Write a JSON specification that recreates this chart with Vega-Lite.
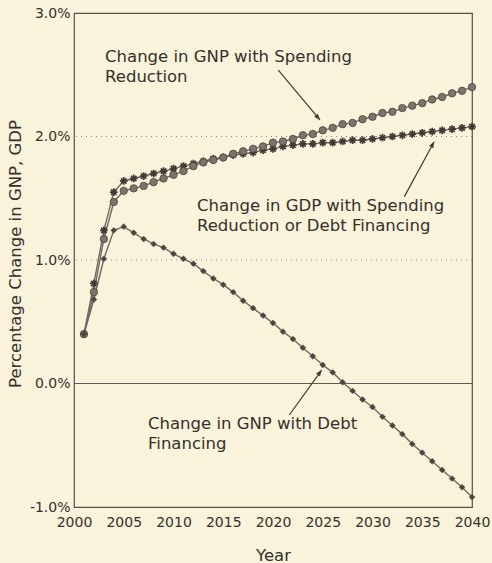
{
  "$schema": "https://vega.github.io/schema/vega-lite/v6.json",
  "width": 398,
  "height": 494,
  "autosize": "none",
  "padding": {"left": 74, "top": 13, "right": 20, "bottom": 56},
  "background": "#f9f3dc",
  "config": {
    "view": {"stroke": "#55504a", "strokeWidth": 1.2},
    "font": "DejaVu Sans",
    "axis": {"domain": false, "ticks": false, "grid": false, "labelFlush": false, "labelOverlap": false, "labelFont": "DejaVu Sans", "labelFontSize": 14, "labelColor": "#35302a", "titleFont": "DejaVu Sans", "titleFontSize": 16.5, "titleFontWeight": "normal", "titleColor": "#35302a"}
  },
  "datasets": {
    "series": [
      {"year": 2001, "series": "GNP spending", "value": 0.40},
      {"year": 2002, "series": "GNP spending", "value": 0.74},
      {"year": 2003, "series": "GNP spending", "value": 1.17},
      {"year": 2004, "series": "GNP spending", "value": 1.47},
      {"year": 2005, "series": "GNP spending", "value": 1.56},
      {"year": 2006, "series": "GNP spending", "value": 1.58},
      {"year": 2007, "series": "GNP spending", "value": 1.60},
      {"year": 2008, "series": "GNP spending", "value": 1.63},
      {"year": 2009, "series": "GNP spending", "value": 1.66},
      {"year": 2010, "series": "GNP spending", "value": 1.69},
      {"year": 2011, "series": "GNP spending", "value": 1.72},
      {"year": 2012, "series": "GNP spending", "value": 1.76},
      {"year": 2013, "series": "GNP spending", "value": 1.79},
      {"year": 2014, "series": "GNP spending", "value": 1.81},
      {"year": 2015, "series": "GNP spending", "value": 1.83},
      {"year": 2016, "series": "GNP spending", "value": 1.86},
      {"year": 2017, "series": "GNP spending", "value": 1.88},
      {"year": 2018, "series": "GNP spending", "value": 1.90},
      {"year": 2019, "series": "GNP spending", "value": 1.92},
      {"year": 2020, "series": "GNP spending", "value": 1.95},
      {"year": 2021, "series": "GNP spending", "value": 1.96},
      {"year": 2022, "series": "GNP spending", "value": 1.98},
      {"year": 2023, "series": "GNP spending", "value": 2.01},
      {"year": 2024, "series": "GNP spending", "value": 2.02},
      {"year": 2025, "series": "GNP spending", "value": 2.05},
      {"year": 2026, "series": "GNP spending", "value": 2.07},
      {"year": 2027, "series": "GNP spending", "value": 2.10},
      {"year": 2028, "series": "GNP spending", "value": 2.11},
      {"year": 2029, "series": "GNP spending", "value": 2.14},
      {"year": 2030, "series": "GNP spending", "value": 2.16},
      {"year": 2031, "series": "GNP spending", "value": 2.19},
      {"year": 2032, "series": "GNP spending", "value": 2.20},
      {"year": 2033, "series": "GNP spending", "value": 2.23},
      {"year": 2034, "series": "GNP spending", "value": 2.25},
      {"year": 2035, "series": "GNP spending", "value": 2.27},
      {"year": 2036, "series": "GNP spending", "value": 2.30},
      {"year": 2037, "series": "GNP spending", "value": 2.32},
      {"year": 2038, "series": "GNP spending", "value": 2.35},
      {"year": 2039, "series": "GNP spending", "value": 2.37},
      {"year": 2040, "series": "GNP spending", "value": 2.40},
      {"year": 2001, "series": "GDP", "value": 0.40},
      {"year": 2002, "series": "GDP", "value": 0.81},
      {"year": 2003, "series": "GDP", "value": 1.24},
      {"year": 2004, "series": "GDP", "value": 1.55},
      {"year": 2005, "series": "GDP", "value": 1.64},
      {"year": 2006, "series": "GDP", "value": 1.66},
      {"year": 2007, "series": "GDP", "value": 1.68},
      {"year": 2008, "series": "GDP", "value": 1.70},
      {"year": 2009, "series": "GDP", "value": 1.72},
      {"year": 2010, "series": "GDP", "value": 1.74},
      {"year": 2011, "series": "GDP", "value": 1.76},
      {"year": 2012, "series": "GDP", "value": 1.78},
      {"year": 2013, "series": "GDP", "value": 1.80},
      {"year": 2014, "series": "GDP", "value": 1.82},
      {"year": 2015, "series": "GDP", "value": 1.83},
      {"year": 2016, "series": "GDP", "value": 1.85},
      {"year": 2017, "series": "GDP", "value": 1.86},
      {"year": 2018, "series": "GDP", "value": 1.87},
      {"year": 2019, "series": "GDP", "value": 1.89},
      {"year": 2020, "series": "GDP", "value": 1.90},
      {"year": 2021, "series": "GDP", "value": 1.92},
      {"year": 2022, "series": "GDP", "value": 1.93},
      {"year": 2023, "series": "GDP", "value": 1.94},
      {"year": 2024, "series": "GDP", "value": 1.94},
      {"year": 2025, "series": "GDP", "value": 1.95},
      {"year": 2026, "series": "GDP", "value": 1.95},
      {"year": 2027, "series": "GDP", "value": 1.96},
      {"year": 2028, "series": "GDP", "value": 1.97},
      {"year": 2029, "series": "GDP", "value": 1.97},
      {"year": 2030, "series": "GDP", "value": 1.98},
      {"year": 2031, "series": "GDP", "value": 1.99},
      {"year": 2032, "series": "GDP", "value": 2.00},
      {"year": 2033, "series": "GDP", "value": 2.01},
      {"year": 2034, "series": "GDP", "value": 2.02},
      {"year": 2035, "series": "GDP", "value": 2.03},
      {"year": 2036, "series": "GDP", "value": 2.04},
      {"year": 2037, "series": "GDP", "value": 2.05},
      {"year": 2038, "series": "GDP", "value": 2.06},
      {"year": 2039, "series": "GDP", "value": 2.07},
      {"year": 2040, "series": "GDP", "value": 2.08},
      {"year": 2001, "series": "GNP debt", "value": 0.40},
      {"year": 2002, "series": "GNP debt", "value": 0.68},
      {"year": 2003, "series": "GNP debt", "value": 1.01},
      {"year": 2004, "series": "GNP debt", "value": 1.24},
      {"year": 2005, "series": "GNP debt", "value": 1.27},
      {"year": 2006, "series": "GNP debt", "value": 1.22},
      {"year": 2007, "series": "GNP debt", "value": 1.17},
      {"year": 2008, "series": "GNP debt", "value": 1.13},
      {"year": 2009, "series": "GNP debt", "value": 1.10},
      {"year": 2010, "series": "GNP debt", "value": 1.05},
      {"year": 2011, "series": "GNP debt", "value": 1.01},
      {"year": 2012, "series": "GNP debt", "value": 0.97},
      {"year": 2013, "series": "GNP debt", "value": 0.91},
      {"year": 2014, "series": "GNP debt", "value": 0.85},
      {"year": 2015, "series": "GNP debt", "value": 0.80},
      {"year": 2016, "series": "GNP debt", "value": 0.74},
      {"year": 2017, "series": "GNP debt", "value": 0.67},
      {"year": 2018, "series": "GNP debt", "value": 0.61},
      {"year": 2019, "series": "GNP debt", "value": 0.55},
      {"year": 2020, "series": "GNP debt", "value": 0.49},
      {"year": 2021, "series": "GNP debt", "value": 0.42},
      {"year": 2022, "series": "GNP debt", "value": 0.36},
      {"year": 2023, "series": "GNP debt", "value": 0.29},
      {"year": 2024, "series": "GNP debt", "value": 0.22},
      {"year": 2025, "series": "GNP debt", "value": 0.15},
      {"year": 2026, "series": "GNP debt", "value": 0.09},
      {"year": 2027, "series": "GNP debt", "value": 0.01},
      {"year": 2028, "series": "GNP debt", "value": -0.06},
      {"year": 2029, "series": "GNP debt", "value": -0.13},
      {"year": 2030, "series": "GNP debt", "value": -0.19},
      {"year": 2031, "series": "GNP debt", "value": -0.27},
      {"year": 2032, "series": "GNP debt", "value": -0.34},
      {"year": 2033, "series": "GNP debt", "value": -0.41},
      {"year": 2034, "series": "GNP debt", "value": -0.49},
      {"year": 2035, "series": "GNP debt", "value": -0.56},
      {"year": 2036, "series": "GNP debt", "value": -0.63},
      {"year": 2037, "series": "GNP debt", "value": -0.70},
      {"year": 2038, "series": "GNP debt", "value": -0.77},
      {"year": 2039, "series": "GNP debt", "value": -0.84},
      {"year": 2040, "series": "GNP debt", "value": -0.92}
    ],
    "labels": [
      {"x": 2003.12, "y": 2.603, "label": "Change in GNP with Spending\nReduction"},
      {"x": 2012.36, "y": 1.397, "label": "Change in GDP with Spending\nReduction or Debt Financing"},
      {"x": 2007.44, "y": -0.368, "label": "Change in GNP with Debt\nFinancing"}
    ],
    "arrows": [
      {"x": 2020.53, "y": 2.538, "x2": 2024.72, "y2": 2.134},
      {"x": 2033.2, "y": 1.513, "x2": 2036.2, "y2": 1.958},
      {"x": 2021.64, "y": -0.255, "x2": 2024.89, "y2": 0.109}
    ]
  },
  "layer": [
    {
      "data": {"values": [{"level": 1}, {"level": 2}]},
      "mark": {"type": "rule", "color": "#8a857c", "strokeWidth": 1, "strokeDash": [1, 4]},
      "encoding": {
        "y": {"field": "level", "type": "quantitative", "scale": {"domain": [-1, 3], "nice": false, "zero": false},
          "axis": {"values": [-1, 0, 1, 2, 3], "labelExpr": "(datum.value < 0 ? '-' : '') + format(abs(datum.value), '.1f') + '%'", "labelPadding": 4,
            "title": "Percentage Change in GNP, GDP", "titleX": -59, "titleY": 240.5, "titleAngle": -90, "titleAlign": "center", "titleBaseline": "middle"}}
      }
    },
    {
      "data": {"values": [{"level": 0}]},
      "mark": {"type": "rule", "color": "#5f5a52", "strokeWidth": 1.2},
      "encoding": {"y": {"field": "level", "type": "quantitative"}}
    },
    {
      "data": {"name": "series"},
      "mark": {"type": "line", "color": "#6e6961", "strokeWidth": 1.4},
      "encoding": {
        "x": {"field": "year", "type": "quantitative", "scale": {"domain": [2000, 2040], "nice": false, "zero": false},
          "axis": {"values": [2000, 2005, 2010, 2015, 2020, 2025, 2030, 2035, 2040], "format": "d", "labelPadding": 8,
            "title": "Year", "titleY": 48, "titleBaseline": "middle"}},
        "y": {"field": "value", "type": "quantitative"},
        "detail": {"field": "series"}
      }
    },
    {
      "data": {"name": "series"},
      "transform": [{"filter": "datum.series === 'GDP'"}],
      "mark": {"type": "point", "shape": "M-1,0L1,0M0,-1L0,1M-0.7,-0.7L0.7,0.7M-0.7,0.7L0.7,-0.7", "filled": false, "stroke": "#3f3a35", "strokeWidth": 1.7, "size": 60, "opacity": 1},
      "encoding": {"x": {"field": "year", "type": "quantitative"}, "y": {"field": "value", "type": "quantitative"}}
    },
    {
      "data": {"name": "series"},
      "transform": [{"filter": "datum.series === 'GNP spending'"}],
      "mark": {"type": "point", "shape": "circle", "filled": true, "fill": "#7a746b", "stroke": "#47423c", "strokeWidth": 0.8, "size": 55, "opacity": 1},
      "encoding": {"x": {"field": "year", "type": "quantitative"}, "y": {"field": "value", "type": "quantitative"}}
    },
    {
      "data": {"name": "series"},
      "transform": [{"filter": "datum.series === 'GNP debt'"}],
      "mark": {"type": "point", "shape": "diamond", "filled": true, "fill": "#4a453f", "stroke": "#4a453f", "strokeWidth": 0.5, "size": 35, "opacity": 1},
      "encoding": {"x": {"field": "year", "type": "quantitative"}, "y": {"field": "value", "type": "quantitative"}}
    },
    {
      "data": {"name": "labels"},
      "mark": {"type": "text", "align": "left", "baseline": "alphabetic", "fontSize": 16.5, "font": "DejaVu Sans", "lineBreak": "\n", "lineHeight": 20, "color": "#35302a"},
      "encoding": {"x": {"field": "x", "type": "quantitative"}, "y": {"field": "y", "type": "quantitative"}, "text": {"field": "label"}}
    },
    {
      "data": {"name": "arrows"},
      "mark": {"type": "rule", "color": "#3f3a35", "strokeWidth": 1.2},
      "encoding": {"x": {"field": "x", "type": "quantitative"}, "y": {"field": "y", "type": "quantitative"}, "x2": {"field": "x2"}, "y2": {"field": "y2"}}
    },
    {
      "data": {"values": [{"x": 2024.72, "y": 2.134}]},
      "mark": {"type": "point", "shape": "M0,0L0.4,1L-0.4,1Z", "filled": true, "fill": "#3f3a35", "size": 150, "angle": 140, "opacity": 1},
      "encoding": {"x": {"field": "x", "type": "quantitative"}, "y": {"field": "y", "type": "quantitative"}}
    },
    {
      "data": {"values": [{"x": 2036.2, "y": 1.958}]},
      "mark": {"type": "point", "shape": "M0,0L0.4,1L-0.4,1Z", "filled": true, "fill": "#3f3a35", "size": 150, "angle": 29, "opacity": 1},
      "encoding": {"x": {"field": "x", "type": "quantitative"}, "y": {"field": "y", "type": "quantitative"}}
    },
    {
      "data": {"values": [{"x": 2024.89, "y": 0.109}]},
      "mark": {"type": "point", "shape": "M0,0L0.4,1L-0.4,1Z", "filled": true, "fill": "#3f3a35", "size": 150, "angle": 36, "opacity": 1},
      "encoding": {"x": {"field": "x", "type": "quantitative"}, "y": {"field": "y", "type": "quantitative"}}
    }
  ]
}
